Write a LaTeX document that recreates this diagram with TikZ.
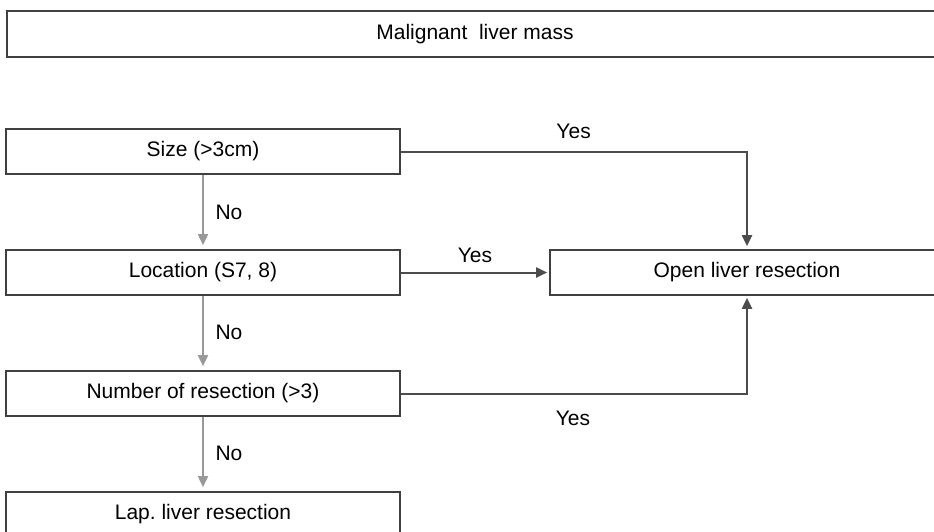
\documentclass[tikz,border=0pt]{standalone}
\usepackage{fontspec}
\setmainfont{Liberation Sans}
\usetikzlibrary{arrows.meta}
\begin{document}
\begin{tikzpicture}[x=1pt,y=-1pt,
  box/.style={draw=black!75,line width=1.7pt,fill=white,rectangle,inner sep=0pt,
    minimum height=45pt,font=\fontsize{21}{25}\selectfont},
  lbl/.style={font=\fontsize{21}{25}\selectfont,inner sep=0pt},
  yesarrow/.style={draw=black!70,line width=2pt,-{Triangle[length=11pt,width=10pt]}},
  noarrow/.style={draw=black!40,line width=1.8pt,-{Triangle[length=11pt,width=10pt]}}]
\useasboundingbox (0,0) rectangle (934,531);
\clip (0,0) rectangle (934,531);
\node[box,minimum width=936pt,minimum height=46pt] (top) at (475,34) {Malignant\ \ liver mass};
\node[box,minimum width=394pt] (size) at (203,151.5) {Size (>3cm)};
\node[box,minimum width=394pt] (loc) at (203,272.5) {Location (S7, 8)};
\node[box,minimum width=394pt] (num) at (203,393.5) {Number of resection (>3)};
\node[box,minimum width=394pt] (lap) at (203,514.5) {Lap.\ liver resection};
\node[box,minimum width=394pt] (open) at (747,272.5) {Open liver resection};
\draw[noarrow,shorten >=4pt] (size.south) -- (loc.north);
\draw[noarrow,shorten >=4pt] (loc.south) -- (num.north);
\draw[noarrow,shorten >=4pt] (num.south) -- (lap.north);
\draw[yesarrow,shorten >=3pt] (size.east) -| (open.north);
\draw[yesarrow,shorten >=2pt] (loc.east) -- (open.west);
\draw[yesarrow,shorten >=2pt] (num.east) -| (open.south);
\node[lbl] (y1) at (573.6,131) {Yes};
\node[lbl] (y2) at (475,255) {Yes};
\node[lbl] (y3) at (573,418) {Yes};
\node[lbl] (n1) at (229,212) {No};
\node[lbl] (n2) at (229,332) {No};
\node[lbl] (n3) at (229,453) {No};
\end{tikzpicture}
\end{document}
